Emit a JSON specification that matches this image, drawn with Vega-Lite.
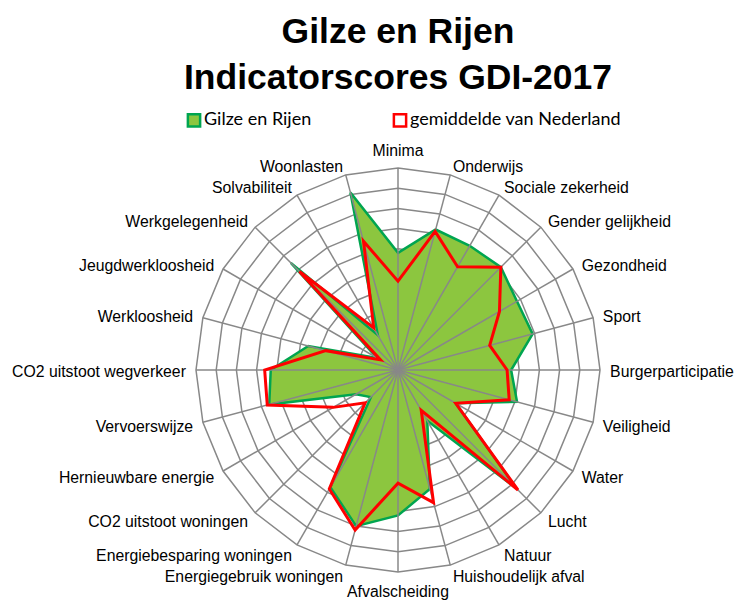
{
  "$schema": "https://vega.github.io/schema/vega-lite/v6.json",
  "width": 404,
  "height": 404,
  "autosize": {"type": "none"},
  "padding": {"left": 196, "top": 168, "right": 135, "bottom": 30},
  "background": "white",
  "title": {
    "text": ["Gilze en Rijen", "Indicatorscores GDI-2017"],
    "font": "Liberation Sans",
    "fontSize": 35.5,
    "fontWeight": "bold",
    "lineHeight": 46,
    "anchor": "middle",
    "frame": "group",
    "color": "black",
    "offset": 15
  },
  "data": {
    "values": [
      {"indicator": "Minima", "Gilze en Rijen": 58, "gemiddelde van Nederland": 44},
      {"indicator": "Onderwijs", "Gilze en Rijen": 72, "gemiddelde van Nederland": 71},
      {"indicator": "Sociale zekerheid", "Gilze en Rijen": 71, "gemiddelde van Nederland": 59},
      {"indicator": "Gender gelijkheid", "Gilze en Rijen": 72, "gemiddelde van Nederland": 72},
      {"indicator": "Gezondheid", "Gilze en Rijen": 68, "gemiddelde van Nederland": 58},
      {"indicator": "Sport", "Gilze en Rijen": 69, "gemiddelde van Nederland": 47},
      {"indicator": "Burgerparticipatie", "Gilze en Rijen": 56, "gemiddelde van Nederland": 54},
      {"indicator": "Veiligheid", "Gilze en Rijen": 61, "gemiddelde van Nederland": 57},
      {"indicator": "Water", "Gilze en Rijen": 33, "gemiddelde van Nederland": 33},
      {"indicator": "Lucht", "Gilze en Rijen": 83, "gemiddelde van Nederland": 84},
      {"indicator": "Natuur", "Gilze en Rijen": 29, "gemiddelde van Nederland": 23},
      {"indicator": "Huishoudelijk afval", "Gilze en Rijen": 61, "gemiddelde van Nederland": 68},
      {"indicator": "Afvalscheiding", "Gilze en Rijen": 72, "gemiddelde van Nederland": 56},
      {"indicator": "Energiegebruik woningen", "Gilze en Rijen": 80, "gemiddelde van Nederland": 82},
      {"indicator": "Energiebesparing woningen", "Gilze en Rijen": 67, "gemiddelde van Nederland": 68},
      {"indicator": "CO2 uitstoot woningen", "Gilze en Rijen": 19, "gemiddelde van Nederland": 23},
      {"indicator": "Hernieuwbare energie", "Gilze en Rijen": 24, "gemiddelde van Nederland": 37},
      {"indicator": "Vervoerswijze", "Gilze en Rijen": 66, "gemiddelde van Nederland": 67},
      {"indicator": "CO2 uitstoot wegverkeer", "Gilze en Rijen": 63, "gemiddelde van Nederland": 66},
      {"indicator": "Werkloosheid", "Gilze en Rijen": 46, "gemiddelde van Nederland": 37},
      {"indicator": "Jeugdwerkloosheid", "Gilze en Rijen": 12, "gemiddelde van Nederland": 10},
      {"indicator": "Werkgelegenheid", "Gilze en Rijen": 75, "gemiddelde van Nederland": 69},
      {"indicator": "Solvabiliteit", "Gilze en Rijen": 20, "gemiddelde van Nederland": 24},
      {"indicator": "Woonlasten", "Gilze en Rijen": 91, "gemiddelde van Nederland": 66}
    ]
  },
  "transform": [
    {"window": [{"op": "row_number", "as": "idx"}]},
    {"calculate": "(datum.idx - 1) * PI / 12", "as": "ang"},
    {"fold": ["Gilze en Rijen", "gemiddelde van Nederland"], "as": ["series", "value"]},
    {"calculate": "datum.value * sin(datum.ang)", "as": "px"},
    {"calculate": "datum.value * cos(datum.ang)", "as": "py"}
  ],
  "layer": [
    {
      "transform": [
        {"filter": "datum.series === 'Gilze en Rijen'"},
        {"impute": "value", "key": "level", "keyvals": [10, 20, 30, 40, 50, 60, 70, 80, 90, 100], "groupby": ["idx", "ang"], "value": 0},
        {"filter": "isValid(datum.level)"},
        {"calculate": "datum.level * sin(datum.ang)", "as": "rx"},
        {"calculate": "datum.level * cos(datum.ang)", "as": "ry"}
      ],
      "mark": {"type": "line", "interpolate": "linear-closed", "stroke": "#888888", "strokeWidth": 1.5},
      "encoding": {
        "x": {"field": "rx", "type": "quantitative", "scale": {"domain": [-100, 100], "nice": false, "zero": false}, "axis": null},
        "y": {"field": "ry", "type": "quantitative", "scale": {"domain": [-100, 100], "nice": false, "zero": false}, "axis": null},
        "detail": {"field": "level", "type": "nominal"},
        "order": {"field": "idx", "type": "quantitative"}
      }
    },
    {
      "transform": [{"filter": "datum.series === 'Gilze en Rijen'"}],
      "mark": {"type": "line", "interpolate": "linear-closed", "strokeWidth": 2.5, "strokeJoin": "miter"},
      "encoding": {
        "x": {"field": "px", "type": "quantitative", "scale": {"domain": [-100, 100], "nice": false, "zero": false}, "axis": null},
        "y": {"field": "py", "type": "quantitative", "scale": {"domain": [-100, 100], "nice": false, "zero": false}, "axis": null},
        "order": {"field": "idx", "type": "quantitative"},
        "fill": {
          "field": "series", "type": "nominal",
          "scale": {"domain": ["Gilze en Rijen", "gemiddelde van Nederland"], "range": ["#8cc63f", "transparent"]},
          "legend": {"title": null, "orient": "none", "legendX": -11, "legendY": -57, "direction": "horizontal", "symbolType": "square", "symbolSize": 150, "symbolStrokeWidth": 2.5, "labelFont": "Lato", "labelFontSize": 18, "labelColor": "black", "labelOffset": 1, "labelLimit": 400, "columnPadding": 76, "padding": 0}
        },
        "stroke": {
          "field": "series", "type": "nominal",
          "scale": {"domain": ["Gilze en Rijen", "gemiddelde van Nederland"], "range": ["#00a550", "#ff0000"]},
          "legend": {"title": null, "orient": "none", "legendX": -11, "legendY": -57, "direction": "horizontal", "symbolType": "square", "symbolSize": 150, "symbolStrokeWidth": 2.5, "labelFont": "Lato", "labelFontSize": 18, "labelColor": "black", "labelOffset": 1, "labelLimit": 400, "columnPadding": 76, "padding": 0}
        }
      }
    },
    {
      "transform": [
        {"filter": "datum.series === 'Gilze en Rijen'"},
        {"calculate": "0", "as": "ox"},
        {"calculate": "100 * sin(datum.ang)", "as": "sx"},
        {"calculate": "100 * cos(datum.ang)", "as": "sy"}
      ],
      "mark": {"type": "rule", "stroke": "#888888", "strokeWidth": 1.5},
      "encoding": {
        "x": {"field": "ox", "type": "quantitative", "scale": {"domain": [-100, 100], "nice": false, "zero": false}, "axis": null},
        "y": {"field": "ox", "type": "quantitative", "scale": {"domain": [-100, 100], "nice": false, "zero": false}, "axis": null},
        "x2": {"field": "sx"},
        "y2": {"field": "sy"}
      }
    },
    {
      "transform": [{"filter": "datum.series === 'gemiddelde van Nederland'"}],
      "mark": {"type": "line", "interpolate": "linear-closed", "strokeWidth": 3, "strokeJoin": "miter"},
      "encoding": {
        "x": {"field": "px", "type": "quantitative", "scale": {"domain": [-100, 100], "nice": false, "zero": false}, "axis": null},
        "y": {"field": "py", "type": "quantitative", "scale": {"domain": [-100, 100], "nice": false, "zero": false}, "axis": null},
        "order": {"field": "idx", "type": "quantitative"},
        "stroke": {"field": "series", "type": "nominal"}
      }
    },
    {
      "transform": [
        {"filter": "datum.series === 'Gilze en Rijen' && datum.idx > 1 && datum.idx < 13"},
        {"calculate": "105 * sin(datum.ang)", "as": "lx"},
        {"calculate": "105 * cos(datum.ang)", "as": "ly"}
      ],
      "mark": {"type": "text", "align": "left", "baseline": "middle", "dy": 2, "font": "Liberation Sans", "fontSize": 15.8, "color": "black"},
      "encoding": {
        "x": {"field": "lx", "type": "quantitative", "scale": {"domain": [-100, 100], "nice": false, "zero": false}, "axis": null},
        "y": {"field": "ly", "type": "quantitative", "scale": {"domain": [-100, 100], "nice": false, "zero": false}, "axis": null},
        "text": {"field": "indicator", "type": "nominal"}
      }
    },
    {
      "transform": [
        {"filter": "datum.series === 'Gilze en Rijen' && datum.idx > 13"},
        {"calculate": "105 * sin(datum.ang)", "as": "lx"},
        {"calculate": "105 * cos(datum.ang)", "as": "ly"}
      ],
      "mark": {"type": "text", "align": "right", "baseline": "middle", "dy": 2, "font": "Liberation Sans", "fontSize": 15.8, "color": "black"},
      "encoding": {
        "x": {"field": "lx", "type": "quantitative", "scale": {"domain": [-100, 100], "nice": false, "zero": false}, "axis": null},
        "y": {"field": "ly", "type": "quantitative", "scale": {"domain": [-100, 100], "nice": false, "zero": false}, "axis": null},
        "text": {"field": "indicator", "type": "nominal"}
      }
    },
    {
      "transform": [
        {"filter": "datum.series === 'Gilze en Rijen' && datum.idx === 1"},
        {"calculate": "105 * sin(datum.ang)", "as": "lx"},
        {"calculate": "105 * cos(datum.ang)", "as": "ly"}
      ],
      "mark": {"type": "text", "align": "center", "baseline": "bottom", "dy": 1, "font": "Liberation Sans", "fontSize": 15.8, "color": "black"},
      "encoding": {
        "x": {"field": "lx", "type": "quantitative", "scale": {"domain": [-100, 100], "nice": false, "zero": false}, "axis": null},
        "y": {"field": "ly", "type": "quantitative", "scale": {"domain": [-100, 100], "nice": false, "zero": false}, "axis": null},
        "text": {"field": "indicator", "type": "nominal"}
      }
    },
    {
      "transform": [
        {"filter": "datum.series === 'Gilze en Rijen' && datum.idx === 13"},
        {"calculate": "105 * sin(datum.ang)", "as": "lx"},
        {"calculate": "105 * cos(datum.ang)", "as": "ly"}
      ],
      "mark": {"type": "text", "align": "center", "baseline": "top", "dy": 3, "font": "Liberation Sans", "fontSize": 15.8, "color": "black"},
      "encoding": {
        "x": {"field": "lx", "type": "quantitative", "scale": {"domain": [-100, 100], "nice": false, "zero": false}, "axis": null},
        "y": {"field": "ly", "type": "quantitative", "scale": {"domain": [-100, 100], "nice": false, "zero": false}, "axis": null},
        "text": {"field": "indicator", "type": "nominal"}
      }
    }
  ],
  "config": {"view": {"stroke": null}}
}
